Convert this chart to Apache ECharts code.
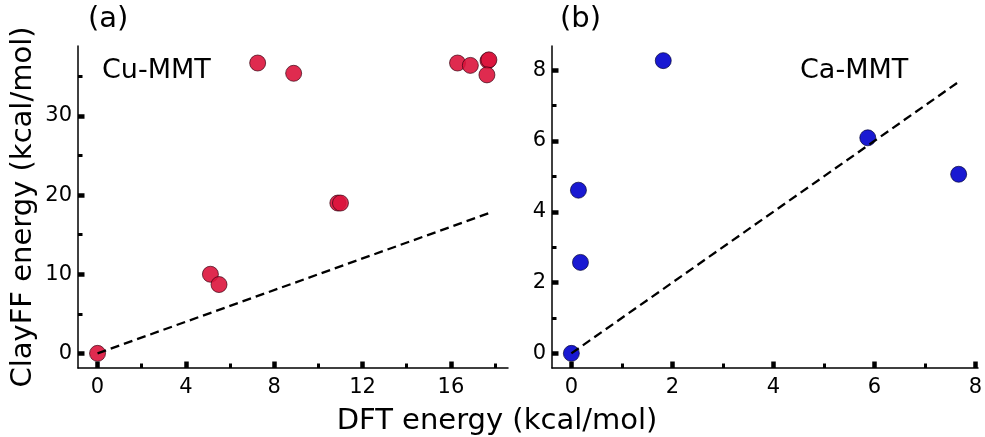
<!DOCTYPE html>
<html>
<head>
<meta charset="utf-8">
<script src="https://cdn.jsdelivr.net/npm/echarts@6/dist/echarts.min.js"></script>
<style>
html,body{margin:0;padding:0;background:#fff;}
#c{width:985px;height:437px;}
</style>
</head>
<body>
<div id="c"></div>
<script>
// Panel (a) Cu-MMT
const cuDFT    = [0, 5.11, 5.5, 7.25, 8.88, 10.88, 11.0, 16.3, 16.88, 17.68, 17.72, 17.63];
const cuClayFF = [0, 10.0, 8.7, 36.7, 35.4, 19.0, 19.0, 36.7, 36.4, 37.0, 37.1, 35.2];
const cuRefLine = [[0, 0], [17.7, 17.7]];
// Panel (b) Ca-MMT
const caDFT    = [0, 0.14, 0.18, 1.82, 5.87, 7.67];
const caClayFF = [0, 4.61, 2.57, 8.27, 6.09, 5.06];
const caRefLine = [[0, 0], [7.65, 7.65]];
// Tick labels
const aXMajor = [0, 4, 8, 12, 16], aXMinor = [2, 6, 10, 14, 18];
const aYMajor = [0, 10, 20, 30],  aYMinor = [5, 15, 25, 35];
const bXMajor = [0, 2, 4, 6, 8],  bXMinor = [1, 3, 5, 7];
const bYMajor = [0, 2, 4, 6, 8],  bYMinor = [1, 3, 5, 7];

const FONT = 'DejaVu Sans';
const chart = echarts.init(document.getElementById('c'), null, {renderer: 'canvas'});

function pairs(xs, ys) { return xs.map((x, i) => [x, ys[i]]); }

function majorAxis(kind, grid, min, max, major) {
  return {
    type: 'value', gridIndex: grid, min: min, max: max,
    position: kind === 'x' ? 'bottom' : 'left',
    splitLine: {show: false},
    axisLine: {show: true, onZero: false, lineStyle: {color: '#000', width: 1.5}},
    axisTick: {show: true, inside: true, length: 6.5, lineStyle: {color: '#000', width: 4.5}, customValues: major},
    axisLabel: {show: true, customValues: major, color: '#000', fontSize: 21, fontFamily: FONT, margin: kind === 'x' ? 9 : 6},
    z: 5
  };
}
function minorAxis(kind, grid, min, max, minor) {
  return {
    type: 'value', gridIndex: grid, min: min, max: max,
    position: kind === 'x' ? 'bottom' : 'left',
    splitLine: {show: false},
    axisLine: {show: false, onZero: false},
    axisTick: {show: true, inside: true, length: 4.5, lineStyle: {color: '#000', width: 3}, customValues: minor},
    axisLabel: {show: false},
    z: 5
  };
}

const redStyle  = {color: 'rgba(220,20,60,0.9)', opacity: 1, borderColor: 'rgba(50,0,15,0.85)', borderWidth: 0.8};
const blueStyle = {color: 'rgba(0,0,205,0.9)', opacity: 1, borderColor: 'rgba(0,0,50,0.85)', borderWidth: 0.8};

chart.setOption({
  backgroundColor: '#fff',
  animation: false,
  grid: [
    {left: 78, top: 46, width: 430, height: 322},
    {left: 552, top: 46, width: 430, height: 322}
  ],
  xAxis: [
    majorAxis('x', 0, -0.885, 18.585, aXMajor),
    minorAxis('x', 0, -0.885, 18.585, aXMinor),
    majorAxis('x', 1, -0.3835, 8.0535, bXMajor),
    minorAxis('x', 1, -0.3835, 8.0535, bXMinor)
  ],
  yAxis: [
    majorAxis('y', 0, -1.85, 38.85, aYMajor),
    minorAxis('y', 0, -1.85, 38.85, aYMinor),
    majorAxis('y', 1, -0.4135, 8.6835, bYMajor),
    minorAxis('y', 1, -0.4135, 8.6835, bYMinor)
  ],
  series: [
    {type: 'scatter', xAxisIndex: 0, yAxisIndex: 0, data: pairs(cuDFT, cuClayFF),
     symbol: 'circle', symbolSize: 16, itemStyle: redStyle, z: 2},
    {type: 'line', xAxisIndex: 0, yAxisIndex: 0, data: cuRefLine, symbol: 'none',
     lineStyle: {color: '#000', width: 2.3, type: [9, 5]}, z: 3},
    {type: 'scatter', xAxisIndex: 2, yAxisIndex: 2, data: pairs(caDFT, caClayFF),
     symbol: 'circle', symbolSize: 16, itemStyle: blueStyle, z: 2},
    {type: 'line', xAxisIndex: 2, yAxisIndex: 2, data: caRefLine, symbol: 'none',
     lineStyle: {color: '#000', width: 2.3, type: [9, 5]}, z: 3}
  ],
  graphic: [
    {type: 'text', left: 88, top: 5, style: {text: '(a)', font: '29px "DejaVu Sans"', fill: '#000'}},
    {type: 'text', left: 560, top: 5, style: {text: '(b)', font: '29px "DejaVu Sans"', fill: '#000'}},
    {type: 'text', left: 102, top: 57, style: {text: 'Cu-MMT', font: '27px "DejaVu Sans"', fill: '#000'}},
    {type: 'text', left: 800, top: 57, style: {text: 'Ca-MMT', font: '27px "DejaVu Sans"', fill: '#000'}},
    {type: 'text', x: 497, y: 421, style: {text: 'DFT energy (kcal/mol)', font: '29px "DejaVu Sans"', fill: '#000', align: 'center', verticalAlign: 'middle'}},
    {type: 'text', x: 23, y: 207, rotation: Math.PI / 2, style: {text: 'ClayFF energy (kcal/mol)', font: '29px "DejaVu Sans"', fill: '#000', align: 'center', verticalAlign: 'middle'}}
  ]
});
</script>
</body>
</html>
